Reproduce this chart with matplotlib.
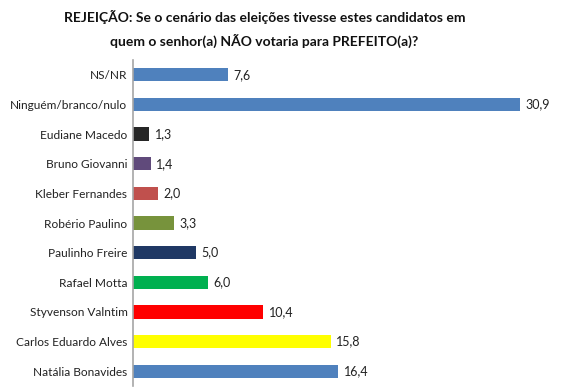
import matplotlib
matplotlib.use("Agg")
import matplotlib.pyplot as plt

# data
candidatos = ["NS/NR", "Ninguém/branco/nulo", "Eudiane Macedo", "Bruno Giovanni",
              "Kleber Fernandes", "Robério Paulino", "Paulinho Freire", "Rafael Motta",
              "Styvenson Valntim", "Carlos Eduardo Alves", "Natália Bonavides"]
rejeicao = [7.6, 30.9, 1.3, 1.4, 2.0, 3.3, 5.0, 6.0, 10.4, 15.8, 16.4]
cores = ["#4F81BD", "#4F81BD", "#262626", "#604A7B", "#C0504D", "#77933C",
         "#1F3864", "#00B050", "#FF0000", "#FFFF00", "#4F81BD"]
titulo = ["REJEIÇÃO: Se o cenário das eleições tivesse estes candidatos em",
          "quem o senhor(a) NÃO votaria para PREFEITO(a)?"]

plt.rcParams['font.family'] = ['Lato', 'DejaVu Sans']

fig = plt.figure(figsize=(5.75, 3.88), dpi=100)
ax = fig.add_axes([133/575, (388-386)/388, (560-133)/575, (386-60)/388])

pos = range(len(candidatos))
ax.barh(pos, rejeicao, height=0.45, color=cores)
for y, v in zip(pos, rejeicao):
    ax.annotate(f"{v:.1f}".replace(".", ","), xy=(v, y), xytext=(4, 0),
                textcoords="offset points", va="center", ha="left",
                fontsize=9, color="#222222")

ax.set_yticks(list(pos))
ax.set_yticklabels(candidatos, fontsize=8.6, color="#222222")
ax.set_ylim(len(candidatos) - 0.5, -0.5)
ax.set_xlim(0, (560-133)/12.52)
ax.set_xticks([])
ax.tick_params(axis="y", length=0, pad=4)
for s in ["top", "right", "bottom"]:
    ax.spines[s].set_visible(False)
ax.spines["left"].set_color("#A6A6A6")
ax.spines["left"].set_linewidth(1.2)

# two title lines, placed separately to match the spacing
fig.text(265/575, 1 - 17/388, titulo[0], ha="center", va="center",
         fontsize=10, fontweight="bold", color="#111111")
fig.text(264/575, 1 - 41/388, titulo[1], ha="center", va="center",
         fontsize=10, fontweight="bold", color="#111111")

fig.savefig("out.png", dpi=100)
